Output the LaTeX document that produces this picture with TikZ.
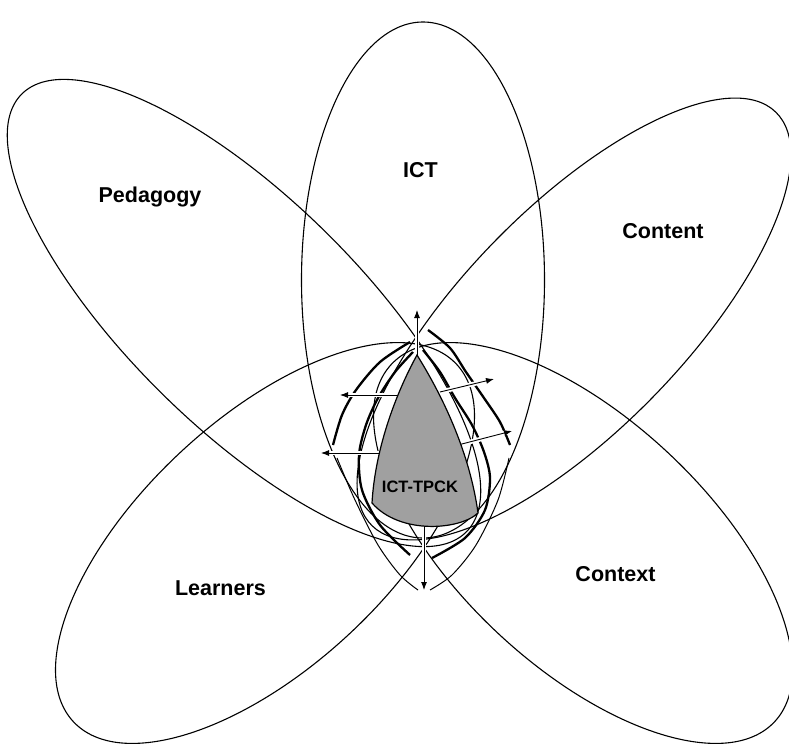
\documentclass[tikz,border=0pt]{standalone}
\usepackage{fontspec}
\setmainfont{Liberation Sans}
\usetikzlibrary{arrows.meta}
\definecolor{tpckgray}{RGB}{160,160,160}

\begin{document}
\begin{tikzpicture}[x=1pt,y=-1pt,
    petal/.style={line width=1.1pt},
    petalname/.style={font=\fontsize{21.5}{24}\selectfont\bfseries,anchor=base},
    ring/.style={line width=2.3pt},
    thinring/.style={line width=1pt},
    push/.style={line width=0.9pt,-{Latex[length=8pt,width=6pt]},
      preaction={draw=white,line width=4.5pt,-}}]
  \useasboundingbox (0,0) rectangle (789,749);
  % the five domains
  \draw[petal] (423,280) ellipse [x radius=121.5,y radius=258];
  \draw[petal,rotate around={-44.5:(244,313)}] (244,313) ellipse [x radius=312,y radius=115];
  \draw[petal,rotate around={45.7:(574,319)}] (574,319) ellipse [x radius=289,y radius=111];
  \draw[petal,rotate around={43:(265,543)}] (265,543) ellipse [x radius=262,y radius=124];
  \draw[petal,rotate around={-43:(583,543)}] (583,543) ellipse [x radius=262,y radius=124];
  % growth lines round the core
  \draw[ring] plot[smooth] coordinates {(413,352) (395,372) (378,398) (366,425) (359,455) (362,490) (380,525) (410,555)};
  \draw[ring] plot[smooth] coordinates {(410,342) (380,362) (356,390) (342,415) (333,445)};
  \draw[thinring] plot[smooth] coordinates {(337,458) (355,500) (378,545) (400,575) (418,590)};
  \draw[ring] plot[smooth] coordinates {(423,350) (440,372) (455,398) (472,425) (484,452) (490,478) (485,510) (465,538) (432,558)};
  \draw[ring] plot[smooth] coordinates {(428,330) (450,348) (466,372) (484,398) (500,422) (510,445)};
  \draw[thinring] plot[smooth] coordinates {(509,458) (498,500) (476,545) (452,575) (430,590)};
  % arrows out of the core
  \coordinate (apex) at (417,358);
  \coordinate (upTip) at (417,310);
  \coordinate (base) at (424,524);
  \coordinate (downTip) at (424,590);
  \coordinate (leftA) at (400,395);
  \coordinate (leftATip) at (340,395);
  \coordinate (leftB) at (382,453);
  \coordinate (leftBTip) at (321,453);
  \coordinate (rightA) at (440,392);
  \coordinate (rightATip) at (494,379);
  \coordinate (rightB) at (458,445);
  \coordinate (rightBTip) at (512,431);
  \draw[push] (apex) -- (upTip);
  \draw[push] (base) -- (downTip);
  \draw[push] (leftA) -- (leftATip);
  \draw[push] (leftB) -- (leftBTip);
  \draw[push] (rightA) -- (rightATip);
  \draw[push] (rightB) -- (rightBTip);
  % the core
  \filldraw[fill=tpckgray,line width=1.2pt] (417,355) .. controls (445,400) and (470,455) .. (478,513)
    .. controls (460,530) and (400,535) .. (372,503) .. controls (375,450) and (395,395) .. (417,355) -- cycle;
  \node[petalname] (ict) at (420.5,177) {ICT};
  \node[petalname] (pedagogy) at (150,202) {Pedagogy};
  \node[petalname] (content) at (663,238) {Content};
  \node[petalname] (learners) at (220.5,595) {Learners};
  \node[petalname] (context) at (615.5,581) {Context};
  \node[font=\fontsize{16.5}{19}\selectfont\bfseries,anchor=base] (tpck) at (420,492) {ICT-TPCK};
\end{tikzpicture}
\end{document}
